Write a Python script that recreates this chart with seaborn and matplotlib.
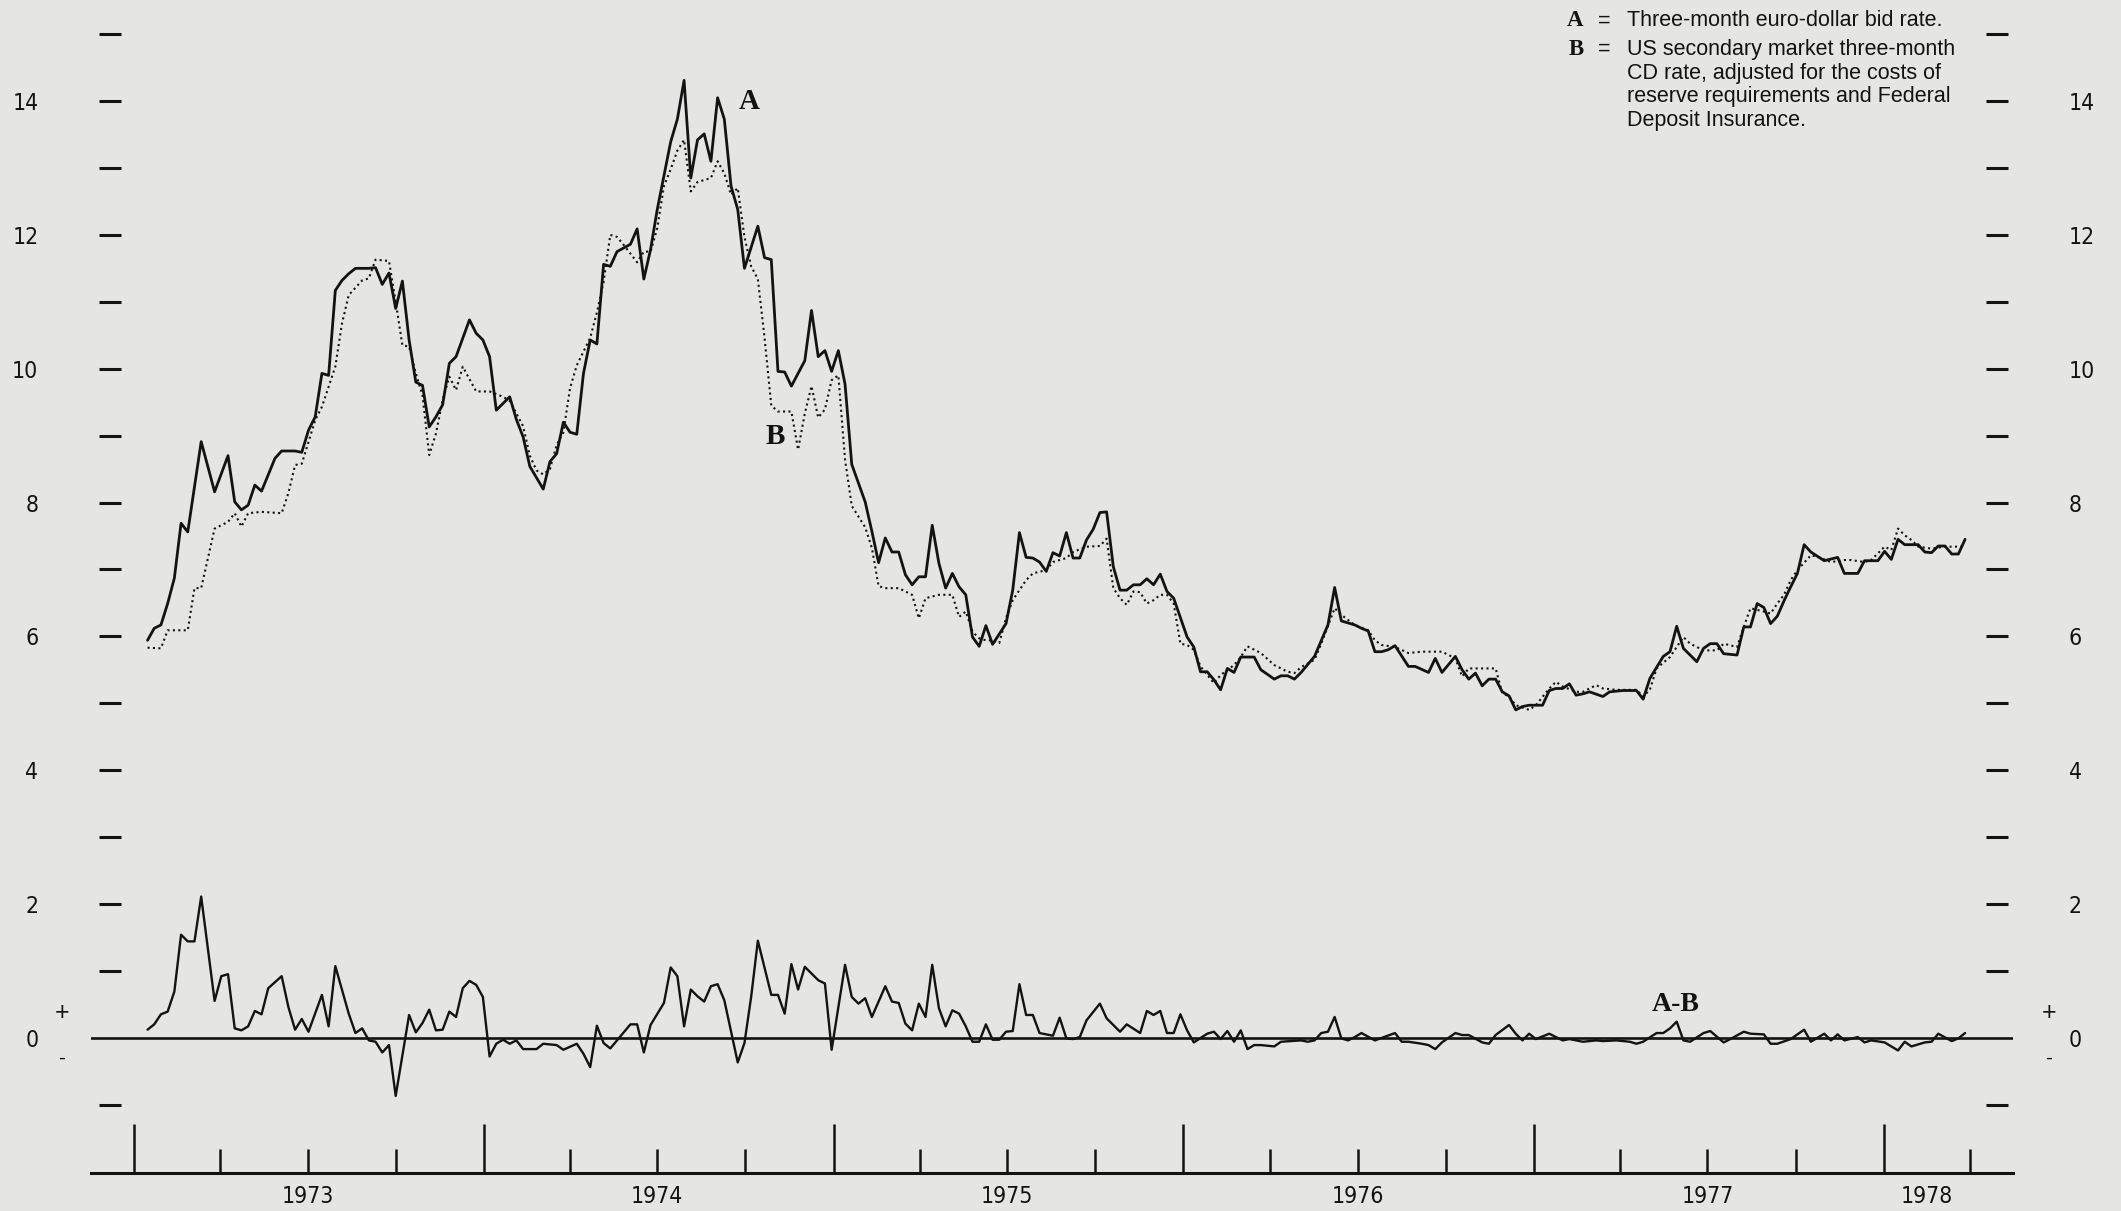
import numpy as np
import pandas as pd
import matplotlib
matplotlib.use("Agg")
import matplotlib.pyplot as plt
import matplotlib.dates as mdates
from matplotlib.ticker import FixedLocator, FuncFormatter
from matplotlib import font_manager
import seaborn as sns

# Weekly observations, indexed by week number counted from the week of 15 January 1973
week_a = [0, 1, 2, 3, 4, 5, 6, 8, 10, 12, 13, 14, 15, 16, 17, 19, 20, 22, 23, 24, 25, 26, 27,
          28, 29, 30, 31, 33, 34, 35, 36, 37, 38, 39, 40, 41, 42, 43, 44, 45, 46, 48, 49, 50,
          51, 52, 54, 55, 56, 57, 59, 60, 61, 62, 63, 64, 65, 66, 67, 68, 69, 70, 72, 73, 74,
          75, 76, 78, 79, 80, 81, 82, 83, 84, 85, 86, 87, 88, 89, 91, 92, 93, 94, 95, 96, 98,
          99, 100, 101, 102, 103, 104, 105, 107, 108, 109, 110, 111, 112, 113, 114, 115, 116,
          117, 118, 119, 120, 121, 122, 123, 124, 125, 126, 128, 129, 130, 131, 132, 133, 134,
          135, 136, 137, 138, 139, 140, 141, 142, 143, 144, 145, 146, 147, 148, 149, 150, 151,
          152, 153, 155, 156, 157, 158, 159, 160, 161, 162, 163, 165, 166, 168, 169, 170, 171,
          172, 174, 176, 177, 178, 180, 181, 182, 183, 184, 185, 186, 188, 189, 191, 192, 193,
          195, 196, 197, 198, 199, 200, 201, 202, 203, 204, 205, 206, 208, 209, 210, 211, 212,
          213, 214, 215, 217, 218, 220, 222, 223, 224, 226, 227, 228, 229, 231, 232, 233, 234,
          235, 237, 238, 239, 240, 241, 242, 243, 244, 245, 246, 247, 248, 250, 252, 253, 255,
          256, 258, 259, 260, 261, 262, 264, 265, 266, 267, 268, 269, 270, 271]
rate_a = [5.94, 6.12, 6.17, 6.49, 6.87, 7.69, 7.56, 8.91, 8.16, 8.70, 8.01, 7.89, 7.96, 8.26,
          8.17, 8.66, 8.77, 8.77, 8.75, 9.08, 9.28, 9.93, 9.90, 11.17, 11.32, 11.42, 11.50,
          11.50, 11.51, 11.26, 11.43, 10.90, 11.31, 10.43, 9.80, 9.75, 9.13, 9.28, 9.46, 10.08,
          10.18, 10.73, 10.53, 10.43, 10.18, 9.38, 9.58, 9.24, 8.98, 8.54, 8.20, 8.61, 8.73,
          9.20, 9.05, 9.02, 9.93, 10.43, 10.37, 11.56, 11.53, 11.75, 11.86, 12.09, 11.34, 11.78,
          12.38, 13.39, 13.73, 14.31, 12.85, 13.42, 13.51, 13.10, 14.05, 13.73, 12.73, 12.38,
          11.50, 12.13, 11.66, 11.63, 9.96, 9.95, 9.74, 10.12, 10.87, 10.18, 10.27, 9.96, 10.27,
          9.77, 8.57, 8.01, 7.57, 7.10, 7.47, 7.26, 7.26, 6.92, 6.77, 6.89, 6.89, 7.66, 7.09,
          6.72, 6.94, 6.74, 6.62, 5.99, 5.85, 6.16, 5.88, 6.19, 6.69, 7.55, 7.18, 7.17, 7.11,
          6.97, 7.25, 7.20, 7.55, 7.17, 7.17, 7.44, 7.60, 7.85, 7.86, 7.04, 6.69, 6.69, 6.77,
          6.77, 6.86, 6.77, 6.93, 6.67, 6.57, 5.99, 5.84, 5.47, 5.47, 5.35, 5.20, 5.52, 5.46,
          5.69, 5.69, 5.50, 5.36, 5.41, 5.41, 5.36, 5.46, 5.70, 6.17, 6.73, 6.23, 6.17, 6.12,
          6.08, 5.77, 5.77, 5.80, 5.86, 5.55, 5.55, 5.46, 5.67, 5.46, 5.70, 5.50, 5.36, 5.45,
          5.26, 5.36, 5.36, 5.17, 5.11, 4.90, 4.95, 4.97, 4.97, 5.19, 5.22, 5.22, 5.29, 5.12,
          5.14, 5.17, 5.10, 5.17, 5.19, 5.19, 5.06, 5.37, 5.70, 5.77, 6.15, 5.82, 5.62, 5.82,
          5.89, 5.89, 5.74, 5.72, 6.14, 6.14, 6.49, 6.43, 6.19, 6.30, 6.53, 6.74, 6.94, 7.37,
          7.26, 7.13, 7.18, 6.94, 6.94, 7.13, 7.13, 7.27, 7.15, 7.45, 7.37, 7.37, 7.26, 7.25,
          7.35, 7.35, 7.23, 7.23, 7.45]

week_b = [0, 2, 3, 6, 7, 8, 10, 12, 13, 14, 15, 17, 20, 21, 22, 23, 25, 26, 28, 29, 30, 32, 33,
          34, 36, 37, 38, 39, 40, 41, 42, 43, 44, 45, 46, 47, 49, 51, 53, 54, 56, 57, 58, 59,
          60, 61, 62, 63, 64, 66, 67, 68, 69, 70, 71, 73, 74, 75, 76, 77, 78, 79, 80, 81, 82,
          84, 85, 86, 87, 88, 89, 90, 91, 92, 93, 94, 96, 97, 98, 99, 100, 101, 102, 103, 104,
          105, 107, 108, 109, 110, 112, 114, 115, 116, 118, 120, 121, 122, 123, 124, 125, 126,
          127, 128, 129, 131, 132, 134, 135, 137, 138, 140, 142, 143, 144, 145, 146, 147, 148,
          149, 150, 151, 152, 153, 154, 155, 156, 157, 159, 160, 162, 163, 164, 166, 168, 170,
          171, 172, 174, 175, 177, 178, 180, 182, 183, 184, 186, 188, 190, 193, 195, 196, 197,
          201, 202, 203, 204, 206, 207, 209, 210, 211, 213, 214, 216, 217, 219, 222, 223, 224,
          225, 227, 229, 230, 232, 234, 235, 237, 238, 239, 241, 242, 243, 244, 245, 246, 248,
          249, 251, 253, 254, 256, 257, 259, 260, 261, 262, 263, 264, 266, 268, 269, 271]
rate_b = [5.83, 5.82, 6.09, 6.09, 6.72, 6.72, 7.61, 7.71, 7.84, 7.64, 7.84, 7.86, 7.84, 8.14,
          8.56, 8.58, 9.23, 9.43, 10.03, 10.68, 11.10, 11.32, 11.35, 11.63, 11.61, 11.00, 10.35,
          10.33, 9.93, 9.60, 8.71, 9.03, 9.53, 9.88, 9.68, 10.03, 9.66, 9.66, 9.58, 9.52, 9.14,
          8.70, 8.48, 8.42, 8.50, 8.86, 9.05, 9.71, 10.05, 10.46, 10.84, 11.30, 12.00, 11.97,
          11.85, 11.59, 11.75, 11.75, 12.10, 12.73, 12.98, 13.26, 13.42, 12.65, 12.79, 12.85,
          13.10, 12.92, 12.60, 12.70, 11.97, 11.53, 11.34, 10.46, 9.45, 9.36, 9.36, 8.79, 9.33,
          9.74, 9.27, 9.39, 9.83, 9.90, 8.64, 7.95, 7.63, 7.32, 6.75, 6.72, 6.72, 6.62, 6.27,
          6.57, 6.62, 6.62, 6.29, 6.37, 6.07, 5.97, 5.94, 5.94, 5.90, 6.27, 6.54, 6.84, 6.94,
          6.99, 7.11, 7.17, 7.26, 7.34, 7.35, 7.46, 6.72, 6.57, 6.47, 6.67, 6.66, 6.49, 6.54,
          6.62, 6.62, 6.49, 5.89, 5.87, 5.80, 5.55, 5.30, 5.42, 5.57, 5.69, 5.85, 5.75, 5.57,
          5.47, 5.45, 5.54, 5.65, 5.89, 6.42, 6.32, 6.17, 6.09, 5.94, 5.87, 5.84, 5.75, 5.77,
          5.77, 5.67, 5.40, 5.52, 5.52, 5.15, 5.10, 4.97, 4.90, 4.97, 5.22, 5.32, 5.25, 5.17,
          5.17, 5.27, 5.22, 5.20, 5.20, 5.10, 5.20, 5.52, 5.69, 5.99, 5.89, 5.79, 5.79, 5.89,
          5.84, 6.14, 6.42, 6.37, 6.34, 6.49, 6.62, 6.84, 6.99, 7.21, 7.19, 7.11, 7.14, 7.14,
          7.11, 7.14, 7.34, 7.29, 7.61, 7.51, 7.44, 7.34, 7.31, 7.34, 7.34, 7.34]

week_spread = [0, 1, 2, 3, 4, 5, 6, 7, 8, 10, 11, 12, 13, 14, 15, 16, 17, 18, 20, 21, 22, 23,
               24, 26, 27, 28, 30, 31, 32, 33, 34, 35, 36, 37, 39, 40, 41, 42, 43, 44, 45, 46,
               47, 48, 49, 50, 51, 52, 53, 54, 55, 56, 58, 59, 61, 62, 64, 65, 66, 67, 68, 69,
               72, 73, 74, 75, 77, 78, 79, 80, 81, 82, 83, 84, 85, 86, 88, 89, 90, 91, 93, 94,
               95, 96, 97, 98, 100, 101, 102, 104, 105, 106, 107, 108, 110, 111, 112, 113, 114,
               115, 116, 117, 118, 119, 120, 121, 122, 123, 124, 125, 126, 127, 128, 129, 130,
               131, 132, 133, 135, 136, 137, 138, 139, 140, 142, 143, 145, 146, 148, 149, 150,
               151, 152, 153, 154, 155, 156, 158, 159, 160, 161, 162, 163, 164, 165, 166, 168,
               169, 172, 173, 174, 175, 176, 177, 178, 179, 180, 181, 183, 186, 187, 188, 190,
               191, 192, 193, 195, 196, 197, 199, 200, 201, 203, 204, 205, 206, 207, 209, 211,
               212, 214, 216, 217, 219, 221, 222, 223, 225, 226, 227, 228, 229, 230, 232, 233,
               235, 236, 238, 239, 241, 242, 243, 245, 246, 247, 248, 250, 251, 252, 253, 255,
               256, 257, 259, 261, 262, 263, 265, 266, 267, 269, 270, 271]
spread = [0.12, 0.20, 0.35, 0.39, 0.69, 1.54, 1.44, 1.44, 2.11, 0.55, 0.92, 0.95, 0.14, 0.11,
          0.17, 0.40, 0.35, 0.74, 0.92, 0.46, 0.12, 0.28, 0.09, 0.64, 0.17, 1.07, 0.36, 0.07,
          0.14, -0.04, -0.06, -0.22, -0.11, -0.87, 0.34, 0.08, 0.22, 0.42, 0.11, 0.12, 0.39,
          0.31, 0.74, 0.85, 0.79, 0.61, -0.28, -0.09, -0.03, -0.09, -0.04, -0.17, -0.17, -0.09,
          -0.11, -0.18, -0.09, -0.24, -0.44, 0.18, -0.08, -0.16, 0.20, 0.20, -0.22, 0.19, 0.52,
          1.05, 0.92, 0.17, 0.72, 0.62, 0.54, 0.77, 0.80, 0.56, -0.37, -0.08, 0.61, 1.45, 0.64,
          0.64, 0.36, 1.10, 0.72, 1.06, 0.86, 0.81, -0.18, 1.09, 0.61, 0.51, 0.59, 0.31, 0.77,
          0.54, 0.52, 0.21, 0.11, 0.51, 0.31, 1.09, 0.44, 0.17, 0.41, 0.36, 0.17, -0.06, -0.06,
          0.20, -0.03, -0.03, 0.09, 0.10, 0.80, 0.34, 0.34, 0.07, 0.03, 0.30, -0.01, -0.02,
          0.01, 0.26, 0.51, 0.29, 0.09, 0.20, 0.07, 0.40, 0.34, 0.40, 0.07, 0.07, 0.35, 0.11,
          -0.07, 0.06, 0.09, -0.02, 0.10, -0.06, 0.11, -0.17, -0.11, -0.11, -0.13, -0.06, -0.04,
          -0.06, -0.04, 0.07, 0.09, 0.31, -0.01, -0.04, 0.01, 0.07, -0.04, 0.07, -0.06, -0.06,
          -0.09, -0.11, -0.17, -0.07, 0.07, 0.04, 0.04, -0.07, -0.09, 0.04, 0.19, 0.06, -0.04,
          0.06, -0.02, 0.06, -0.04, -0.02, -0.06, -0.04, -0.05, -0.04, -0.06, -0.09, -0.06,
          0.07, 0.07, 0.14, 0.24, -0.04, -0.06, 0.07, 0.10, -0.07, -0.02, 0.09, 0.06, 0.05,
          -0.09, -0.09, -0.02, 0.05, 0.12, -0.06, 0.06, -0.04, 0.05, -0.04, 0.01, -0.07, -0.04,
          -0.07, -0.19, -0.06, -0.13, -0.07, -0.06, 0.06, -0.05, -0.01, 0.07]

year_labels = ["1973", "1974", "1975", "1976", "1977", "1978"]
year_label_dates = ["1973-07-01", "1974-07-01", "1975-07-01", "1976-07-01", "1977-07-01",
                    "1978-02-15"]
rate_ticks = [-1, 1, 2, 3, 4, 5, 6, 7, 8, 9, 10, 11, 12, 13, 14, 15]
legend_a = "Three-month euro-dollar bid rate."
legend_b = ["US secondary market three-month", "CD rate, adjusted for the costs of",
            "reserve requirements and Federal", "Deposit Insurance."]

FIRST_WEEK = pd.Timestamp("1973-01-15")


def weekly(weeks, values, name):
    dates = FIRST_WEEK + pd.to_timedelta(np.asarray(weeks) * 7, unit="D")
    return pd.DataFrame({"date": dates, name: values})


df_a = weekly(week_a, rate_a, "rate")
df_b = weekly(week_b, rate_b, "rate")
df_s = weekly(week_spread, spread, "spread")

sns.set_theme(style="white")
PAPER = "#e5e5e2"
INK = "#131313"
SANS = ["Liberation Sans", "DejaVu Sans"]
SERIF = ["Liberation Serif", "DejaVu Serif"]
plt.rcParams["font.family"] = SANS
plt.rcParams["text.color"] = INK

# narrow face for the scale figures, if a condensed cut is on the system
_fonts = font_manager.fontManager.ttflist
if any(f.name == "DejaVu Sans Condensed" or
       (f.name == "DejaVu Sans" and f.stretch == "condensed") for f in _fonts):
    NUM = dict(family=["DejaVu Sans"], stretch="condensed", size=16.5)
else:
    NUM = dict(family=SANS, size=16.5)
NUMSIZE = NUM["size"]

W, H = 2121, 1211
fig = plt.figure(figsize=(W / 100, H / 100), dpi=100, facecolor=PAPER)

# y runs from -2.59 at the bottom edge to 15.51 at the top edge
YLIM = (-2.590, 15.511)
BASE_Y = -2.018   # level of the time axis rule

ax = fig.add_axes([91 / W, 0, (2013 - 91) / W, 1])
ax.set_facecolor(PAPER)
ax.set_xlim(pd.Timestamp("1972-11-17"), pd.Timestamp("1978-05-16"))
ax.set_ylim(*YLIM)

sns.lineplot(data=df_a, x="date", y="rate", ax=ax, color=INK, linewidth=2.0,
             estimator=None, errorbar=None)
sns.lineplot(data=df_b, x="date", y="rate", ax=ax, color=INK, linewidth=1.5,
             linestyle=(0, (1, 1.6)), estimator=None, errorbar=None)
sns.lineplot(data=df_s, x="date", y="spread", ax=ax, color=INK, linewidth=1.7,
             estimator=None, errorbar=None)
ax.axhline(0, color=INK, linewidth=1.9, zorder=1)

for side in ["top", "left", "right"]:
    ax.spines[side].set_visible(False)
ax.spines["bottom"].set_position(("data", BASE_Y))
ax.spines["bottom"].set_color(INK)
ax.spines["bottom"].set_linewidth(2.2)
ax.set_xlabel("")
ax.set_ylabel("")
ax.set_yticks([])
ax.xaxis.set_major_locator(mdates.YearLocator())
ax.xaxis.set_minor_locator(mdates.MonthLocator(bymonth=[4, 7, 10]))
ax.tick_params(axis="x", which="major", direction="in", length=35, width=1.8,
               color=INK, labelbottom=False, bottom=True)
ax.tick_params(axis="x", which="minor", direction="in", length=17.5, width=1.8,
               color=INK, bottom=True)

for lab, d in zip(year_labels, year_label_dates):
    ax.text(pd.Timestamp(d), -2.38, lab, ha="center", va="center", color=INK,
            fontproperties=font_manager.FontProperties(**NUM))

# series labels
ax.text(pd.Timestamp("1974-10-05"), 14.0, "A", ha="center", va="center",
        fontsize=21, fontweight="bold", family=SERIF, color=INK)
ax.text(pd.Timestamp("1974-11-01"), 8.99, "B", ha="center", va="center",
        fontsize=21, fontweight="bold", family=SERIF, color=INK)
ax.text(pd.Timestamp("1977-05-29"), 0.50, "A-B", ha="center", va="center",
        fontsize=20, fontweight="bold", family=SERIF, color=INK)

# rate scale: dashes on both sides, figures at even values
ay = fig.add_axes([121 / W, 0, (1986 - 121) / W, 1])
ay.patch.set_visible(False)
ay.set_ylim(*YLIM)
ay.set_xlim(0, 1)
ay.set_xticks([])
for s in ay.spines.values():
    s.set_visible(False)
ay.yaxis.set_major_locator(FixedLocator(rate_ticks))
ay.yaxis.set_major_formatter(FuncFormatter(lambda v, p: f"{int(v)}" if v > 0 and int(v) % 2 == 0 else ""))
ay.yaxis.set_minor_locator(FixedLocator([0]))
ay.yaxis.set_minor_formatter(FuncFormatter(lambda v, p: "0"))
ay.tick_params(axis="y", which="major", direction="out", length=15.5, width=2.2, color=INK,
               left=True, right=True, labelleft=True, labelright=True, pad=44,
               labelsize=NUMSIZE, labelcolor=INK)
ay.tick_params(axis="y", which="minor", length=0, left=True, right=True, labelleft=True,
               labelright=True, pad=44 + 15.5, labelsize=NUMSIZE, labelcolor=INK)
fig.canvas.draw()
for lab in ay.get_yticklabels(which="both"):
    lab.set_fontproperties(font_manager.FontProperties(**NUM))
ay.grid(False)


def px(x, y):
    return x / W, 1 - y / H


for x in (62, 2049):
    fig.text(*px(x, 1013), "+", ha="center", va="center", fontsize=18, color=INK)
    fig.text(*px(x, 1058), "-", ha="center", va="center", fontsize=15, color=INK)

# key
fig.text(*px(1575, 26.5), "A", ha="center", va="baseline", fontsize=16.5, fontweight="bold",
         family=SERIF, color=INK)
fig.text(*px(1604, 26.5), "=", ha="center", va="baseline", fontsize=15.5, color=INK)
fig.text(*px(1627, 26.5), legend_a, ha="left", va="baseline", fontsize=15.5, color=INK)
fig.text(*px(1576, 55), "B", ha="center", va="baseline", fontsize=16.5, fontweight="bold",
         family=SERIF, color=INK)
fig.text(*px(1604, 55), "=", ha="center", va="baseline", fontsize=15.5, color=INK)
for i, line in enumerate(legend_b):
    fig.text(*px(1627, 55 + 23.7 * i), line, ha="left", va="baseline", fontsize=15.5,
             color=INK)

fig.savefig("out.png", dpi=100, facecolor=PAPER)
